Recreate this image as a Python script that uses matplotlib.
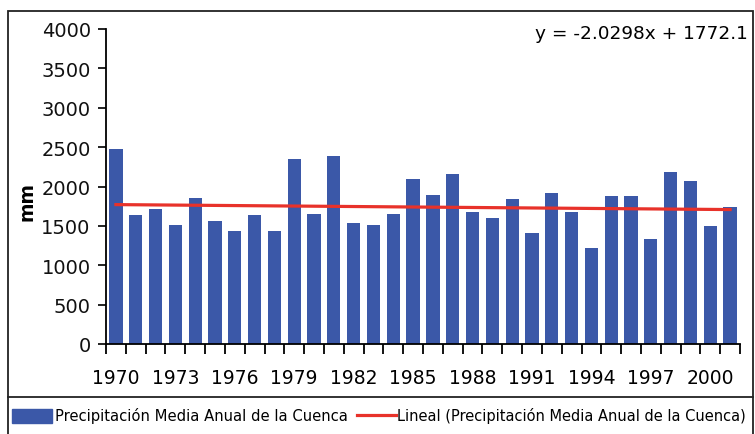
import matplotlib.pyplot as plt
from matplotlib.patches import Rectangle
from matplotlib.lines import Line2D

plt.rcParams['font.family'] = ['DejaVu Sans']

# datos
years = list(range(1970, 2002))
precip = [2470, 1640, 1715, 1515, 1855, 1560, 1435, 1640, 1435, 2350,
          1655, 2390, 1540, 1515, 1655, 2090, 1895, 2155, 1675, 1595,
          1835, 1415, 1915, 1675, 1215, 1875, 1875, 1335, 2190, 2070,
          1495, 1735]
slope = -2.0298
intercept = 1772.1
label_years = [1970, 1973, 1976, 1979, 1982, 1985, 1988, 1991, 1994, 1997, 2000]

bar_color = '#3B58A8'
line_color = '#E8322A'

W, H = 755, 435
fig = plt.figure(figsize=(W / 100, H / 100), dpi=100)

# marco exterior y separador de la leyenda
fig.add_artist(Rectangle((8 / W, -0.05), 745 / W, 1.05 - 12 / H,
                         transform=fig.transFigure, fill=False,
                         edgecolor='#222222', lw=1.3))
fig.add_artist(Line2D([8 / W, 753 / W], [1 - 398 / H, 1 - 398 / H],
                      transform=fig.transFigure, color='#222222', lw=1.3))

left, right, top, bottom = 106, 740, 30, 345
ax = fig.add_axes([left / W, 1 - bottom / H, (right - left) / W, (bottom - top) / H])

x = list(range(1, len(years) + 1))
ax.bar(x, precip, width=0.67, color=bar_color, zorder=2)
trend = [slope * xi + intercept for xi in x]
ax.plot(x, trend, color=line_color, lw=2.3, zorder=3)

ax.set_xlim(0.5, len(years) + 0.5)
ax.set_ylim(0, 4000)
ax.set_yticks(range(0, 4001, 500))
ax.tick_params(axis='y', labelsize=14, length=6, width=1.3, pad=5, colors='#111111')

# marcas entre categorias, etiquetas cada 3 años
ax.set_xticks([i + 0.5 for i in range(0, len(years) + 1)])
ax.set_xticklabels([])
ax.set_xticks([years.index(y) + 1 for y in label_years], minor=True)
ax.set_xticklabels([str(y) for y in label_years], minor=True)
ax.tick_params(axis='x', which='major', length=7, width=1.3)
ax.tick_params(axis='x', which='minor', length=0, labelsize=13.5, pad=17)

for s in ['top', 'right']:
    ax.spines[s].set_visible(False)
for s in ['left', 'bottom']:
    ax.spines[s].set_linewidth(1.3)

fig.text(27 / W, 1 - 202 / H, 'mm', rotation=90, ha='center', va='center',
         fontsize=13.5, fontweight='bold')

fig.text(748 / W, 1 - 34 / H, 'y = -2.0298x + 1772.1', ha='right', va='center',
         fontsize=13.3)

# leyenda
fig.add_artist(Rectangle((12 / W, 1 - 424 / H), 40 / W, 14 / H,
                         transform=fig.transFigure, color=bar_color))
fig.text(55 / W, 1 - 416 / H, 'Precipitación Media Anual de la Cuenca',
         ha='left', va='center', fontsize=10.65)
fig.add_artist(Line2D([357 / W, 396 / W], [1 - 416 / H, 1 - 416 / H],
                      transform=fig.transFigure, color=line_color, lw=2.3))
fig.text(397 / W, 1 - 416 / H, 'Lineal (Precipitación Media Anual de la Cuenca)',
         ha='left', va='center', fontsize=10.55)

fig.savefig('out.png', dpi=100)
